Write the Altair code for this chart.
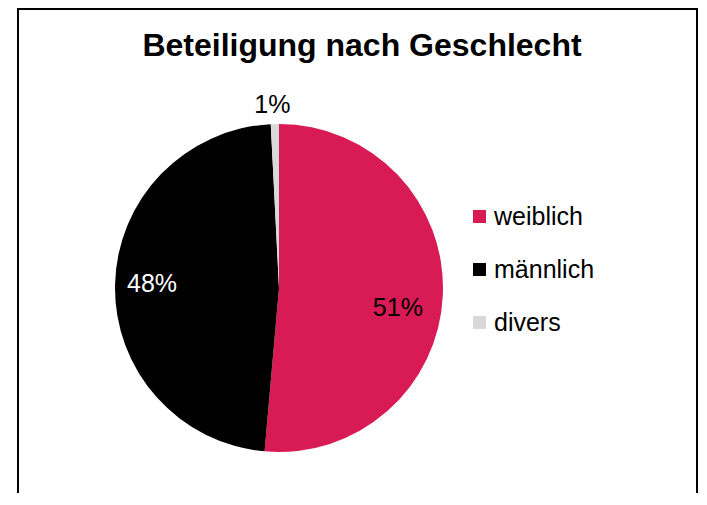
import altair as alt
import pandas as pd

categories = ["weiblich", "männlich", "divers"]
shares = [51.4, 47.8, 0.8]
order = [1, 2, 3]
colors = ["#D81B54", "#000000", "#D9D9D9"]
title_text = "Beteiligung nach Geschlecht"

df = pd.DataFrame({"cat": categories, "v": shares, "o": order})

FONT = "Liberation Sans"
CX, CY, R = 271, 280, 164

base = alt.Chart(df).transform_calculate(
    label="format(datum.v/100, '.0%')"
)

color_scale = alt.Scale(domain=categories, range=colors)

pie = base.mark_arc(outerRadius=R, strokeWidth=0).encode(
    theta=alt.Theta("v:Q", stack=True),
    color=alt.Color(
        "cat:N",
        scale=color_scale,
        sort=categories,
        legend=alt.Legend(
            title=None,
            orient="none",
            legendX=459,
            legendY=196,
            symbolType="square",
            symbolSize=169,
            symbolStrokeWidth=0,
            labelFont=FONT,
            labelFontSize=25,
            labelColor="#000000",
            rowPadding=27,
            symbolOffset=0,
            labelOffset=2,
        ),
    ),
    order=alt.Order("o:Q"),
    x=alt.value(CX),
    y=alt.value(CY),
)


def label_layer(cat, radius, color, dx=0, dy=0):
    return base.mark_text(
        radius=radius, font=FONT, fontSize=25, align="center", baseline="middle",
        color=color, dx=dx, dy=dy
    ).encode(
        theta=alt.Theta("v:Q", stack=True),
        order=alt.Order("o:Q"),
        text="label:N",
        opacity=alt.condition(f"datum.cat == '{cat}'", alt.value(1), alt.value(0)),
        x=alt.value(CX),
        y=alt.value(CY),
    )


lab_w = label_layer("weiblich", 121, "#000000", dx=-2, dy=15)
lab_m = label_layer("männlich", 126, "#FFFFFF", dx=-1, dy=-2)
lab_d = label_layer("divers", 184, "#000000", dx=-2, dy=1)

title = alt.Chart(pd.DataFrame({"t": [title_text]})).mark_text(
    font=FONT, fontSize=32, fontWeight="bold", align="center", baseline="alphabetic", color="#000000"
).encode(text="t:N", x=alt.value(354), y=alt.value(48))

W, H = 691, 485
border_left = alt.Chart(pd.DataFrame({"a": [0]})).mark_rule(color="#000000", strokeWidth=2).encode(
    x=alt.value(10), y=alt.value(1), y2=alt.value(H)
)
border_right = alt.Chart(pd.DataFrame({"a": [0]})).mark_rule(color="#000000", strokeWidth=2).encode(
    x=alt.value(689), y=alt.value(1), y2=alt.value(H)
)
border_top = alt.Chart(pd.DataFrame({"a": [0]})).mark_rule(color="#000000", strokeWidth=2).encode(
    x=alt.value(9), x2=alt.value(690), y=alt.value(1)
)

chart = alt.layer(
    pie, lab_w, lab_m, lab_d, title, border_left, border_right, border_top
).properties(
    width=W, height=H, autosize=alt.AutoSizeParams(type="none"), padding=0
).configure(font=FONT).configure_view(stroke="transparent", strokeWidth=0)

chart.save("out.html", embed_options={"renderer": "svg", "actions": False})
